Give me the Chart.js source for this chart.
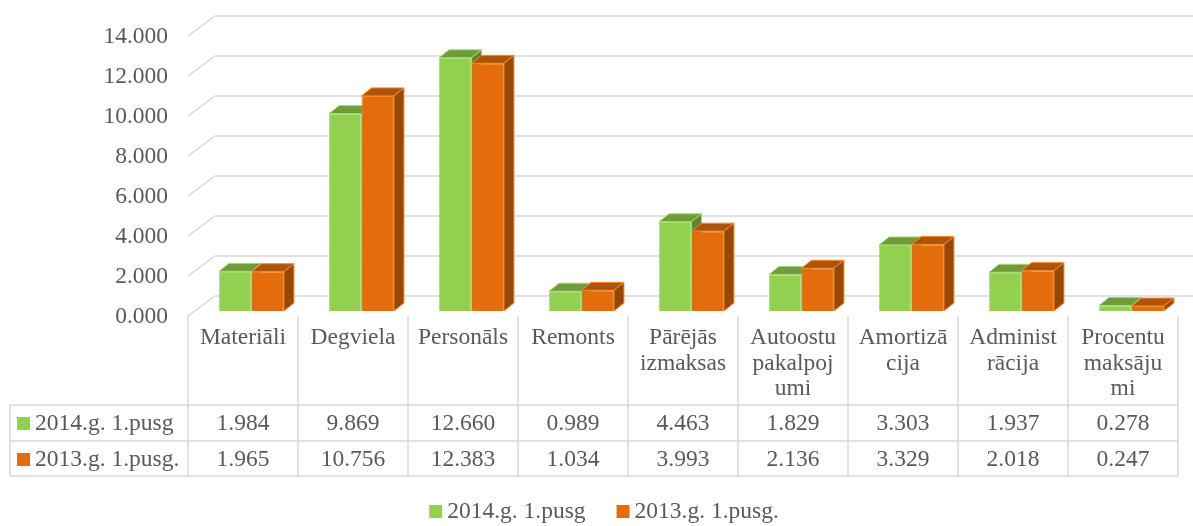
<!DOCTYPE html>
<html>
<head>
<meta charset="utf-8">
<script src="https://cdn.jsdelivr.net/npm/chart.js@4.4.1/dist/chart.umd.min.js"></script>
<style>
  html, body { margin: 0; padding: 0; background: #fff; }
  #wrap { width: 1193px; height: 526px; }
</style>
</head>
<body>
<div id="wrap"><canvas id="costChart" width="1193" height="526"></canvas></div>
<script>
// Izmaksu grupas (teksts sadalīts rindās kā tabulā)
const categories = [
    ['Materiāli'],
    ['Degviela'],
    ['Personāls'],
    ['Remonts'],
    ['Pārējās', 'izmaksas'],
    ['Autoostu', 'pakalpoj', 'umi'],
    ['Amortizā', 'cija'],
    ['Administ', 'rācija'],
    ['Procentu', 'maksāju', 'mi']
];
const seriesNames = ['2014.g. 1.pusg', '2013.g. 1.pusg.'];
const values2014 = [1.984, 9.869, 12.660, 0.989, 4.463, 1.829, 3.303, 1.937, 0.278];
const values2013 = [1.965, 10.756, 12.383, 1.034, 3.993, 2.136, 3.329, 2.018, 0.247];
const yTicks = [0, 2, 4, 6, 8, 10, 12, 14];

const FONT = '23.5px "Liberation Serif", "Times New Roman", serif';
const TEXT = '#595959';
const LINE = '#d9d9d9';

// 3D nobīdes
const wallDX = 27, wallDY = -20;   // aizmugurējā siena
const barShiftX = 8.5, barShiftY = -5; // stabiņi sienas vidū
const depthDX = 10, depthDY = -8;  // stabiņa dziļums

const faceColors = [
    { top: '#6f9b3d', side: '#5c8530' },
    { top: '#ad530a', side: '#974706' }
];

function drawFaces(ctx, meta, index) {
    const fc = faceColors[index];
    meta.data.forEach(bar => {
        const p = bar.getProps(['x', 'y', 'base', 'width'], true);
        const l = p.x - p.width / 2, r = p.x + p.width / 2;
        ctx.strokeStyle = bar.options.borderColor;
        ctx.lineWidth = 1;
        // augša
        ctx.beginPath();
        ctx.moveTo(l, p.y);
        ctx.lineTo(l + depthDX, p.y + depthDY);
        ctx.lineTo(r + depthDX, p.y + depthDY);
        ctx.lineTo(r, p.y);
        ctx.closePath();
        ctx.fillStyle = fc.top;
        ctx.fill();
        ctx.stroke();
        // sāns
        ctx.beginPath();
        ctx.moveTo(r, p.y);
        ctx.lineTo(r + depthDX, p.y + depthDY);
        ctx.lineTo(r + depthDX, p.base + depthDY);
        ctx.lineTo(r, p.base);
        ctx.closePath();
        ctx.fillStyle = fc.side;
        ctx.fill();
        ctx.stroke();
    });
}

const threeDPlugin = {
    id: 'threeD',
    beforeDatasetsDraw(chart) {
        const ctx = chart.ctx;
        const area = chart.chartArea;
        const y = chart.scales.y;
        ctx.save();
        ctx.strokeStyle = LINE;
        ctx.lineWidth = 1.5;
        yTicks.forEach(v => {
            const py = y.getPixelForValue(v);
            ctx.beginPath();
            ctx.moveTo(area.left, py);
            ctx.lineTo(area.left + wallDX, py + wallDY);
            ctx.lineTo(chart.width, py + wallDY);
            ctx.stroke();
        });
        // ass vērtības
        ctx.fillStyle = TEXT;
        ctx.font = FONT;
        ctx.textAlign = 'right';
        ctx.textBaseline = 'middle';
        yTicks.forEach(v => {
            ctx.fillText(v.toFixed(3), 168, y.getPixelForValue(v) + 1);
        });
        ctx.restore();
    },
    // standarta zīmēšanu atceļam, lai zaļais būtu apakšā un oranžais virsū
    beforeDatasetDraw() {
        return false;
    },
    afterDatasetsDraw(chart) {
        const ctx = chart.ctx;
        ctx.save();
        ctx.translate(barShiftX, barShiftY);
        chart.data.datasets.forEach((d, i) => {
            const meta = chart.getDatasetMeta(i);
            meta.controller.draw();
            drawFaces(ctx, meta, i);
        });
        ctx.restore();
    },
    afterDraw(chart) {
        const ctx = chart.ctx;
        const x = chart.scales.x;
        const area = chart.chartArea;
        const colW = x.getPixelForValue(1) - x.getPixelForValue(0);
        const headTop = area.bottom, row1 = 405, row2 = 441, row3 = 476, tableLeft = 10;

        ctx.save();
        ctx.strokeStyle = LINE;
        ctx.lineWidth = 1.5;
        ctx.beginPath();
        for (let i = 0; i <= categories.length; i++) {
            const px = area.left + i * colW;
            ctx.moveTo(px, headTop);
            ctx.lineTo(px, row3);
        }
        [row1, row2, row3].forEach(ry => {
            ctx.moveTo(tableLeft, ry);
            ctx.lineTo(area.left + categories.length * colW, ry);
        });
        ctx.moveTo(tableLeft, row1);
        ctx.lineTo(tableLeft, row3);
        ctx.stroke();

        ctx.fillStyle = TEXT;
        ctx.font = FONT;
        ctx.textAlign = 'center';
        ctx.textBaseline = 'middle';
        categories.forEach((lines, i) => {
            const cx = x.getPixelForValue(i);
            lines.forEach((t, j) => ctx.fillText(t, cx, 338 + j * 25.5));
            ctx.fillText(values2014[i].toFixed(3), cx, 424);
            ctx.fillText(values2013[i].toFixed(3), cx, 460);
        });

        // rindu nosaukumi ar krāsu atslēgām
        const ds = chart.data.datasets;
        [424, 460].forEach((cy, k) => {
            ctx.fillStyle = ds[k].backgroundColor;
            ctx.fillRect(17, cy - 7, 13, 13);
            ctx.fillStyle = TEXT;
            ctx.textAlign = 'left';
            ctx.fillText(ds[k].label, 35, cy);
        });

        // leģenda apakšā
        const w0 = ctx.measureText(ds[0].label).width;
        const w1 = ctx.measureText(ds[1].label).width;
        const total = 13 + 5 + w0 + 31 + 13 + 5 + w1;
        let lx = 604 - total / 2;
        const ly = 512;
        ds.forEach((d, k) => {
            ctx.fillStyle = d.backgroundColor;
            ctx.fillRect(lx, ly - 7, 13, 13);
            lx += 18;
            ctx.fillStyle = TEXT;
            ctx.fillText(d.label, lx, ly);
            lx += (k === 0 ? w0 : w1) + 31;
        });
        ctx.restore();
    }
};

new Chart(document.getElementById('costChart'), {
    type: 'bar',
    data: {
        labels: categories,
        datasets: [{
            label: seriesNames[0],
            data: values2014,
            backgroundColor: '#92d050',
            borderColor: '#a6dc6c',
            borderWidth: 1,
            clip: false
        }, {
            label: seriesNames[1],
            data: values2013,
            backgroundColor: '#e46c0a',
            borderColor: '#f68a2c',
            borderWidth: 1,
            clip: false
        }]
    },
    options: {
        responsive: false,
        animation: false,
        devicePixelRatio: 1,
        layout: { padding: { left: 188, right: 15, top: 36, bottom: 210 } },
        categoryPercentage: 0.59,
        barPercentage: 1,
        plugins: {
            legend: { display: false },
            tooltip: { enabled: false }
        },
        scales: {
            x: { display: false },
            y: { display: false, min: 0, max: 14 }
        }
    },
    plugins: [threeDPlugin]
});
</script>
</body>
</html>
